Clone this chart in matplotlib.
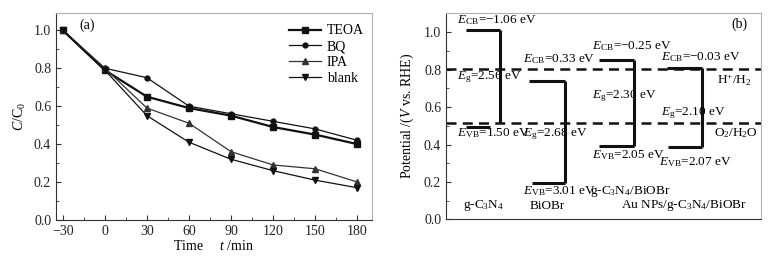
import numpy as np
import matplotlib.pyplot as plt

plt.rcParams['font.family'] = ['Liberation Serif', 'DejaVu Serif']
plt.rcParams['mathtext.fontset'] = 'custom'
plt.rcParams['mathtext.rm'] = 'Liberation Serif'
plt.rcParams['mathtext.it'] = 'Liberation Serif:italic'
plt.rcParams['font.size'] = 10

# panel (a) data
time = [-30, 0, 30, 60, 90, 120, 150, 180]
teoa = [1.0, 0.79, 0.65, 0.59, 0.55, 0.49, 0.45, 0.40]
bq = [1.0, 0.80, 0.75, 0.60, 0.56, 0.52, 0.48, 0.42]
ipa = [1.0, 0.80, 0.59, 0.51, 0.36, 0.29, 0.27, 0.20]
blank = [1.0, 0.79, 0.55, 0.41, 0.32, 0.26, 0.21, 0.17]

# panel (b) band positions (schematic axis units)
band_x0 = [6.4, 26.5, 48.7, 70.1]
band_x1 = [17.2, 37.8, 59.7, 81.4]
vb_x0 = [6.4, 27.2, 48.7, 70.5]
vb_x1 = [14.0, 37.8, 59.7, 81.4]
cb_level = [1.012, 0.741, 0.852, 0.811]
vb_level = [0.495, 0.196, 0.392, 0.388]
redox_level = [0.802, 0.513]
redox_names = [r'H$^{+}$/H$_{2}$', r'O$_{2}$/H$_{2}$O']
redox_y = [0.745, 0.463]

fig = plt.figure(figsize=(7.72, 2.58), dpi=100)
ax1 = fig.add_axes([56/772, 1-220/258, (372-56)/772, (220-13)/258])
ax2 = fig.add_axes([446/772, 1-219.3/258, (760.7-446)/772, (219.3-12.7)/258])

light = '#b0b0b0'
for ax in (ax1, ax2):
    ax.spines['top'].set_color(light)
    ax.spines['right'].set_color(light)
    ax.spines['left'].set_color('#333333')
    ax.spines['bottom'].set_color('#333333')
    ax.tick_params(which='both', direction='in', colors='#333333', labelcolor='#222222', labelsize=10)
    ax.tick_params(which='major', length=3.5)
    ax.tick_params(which='minor', length=2)

# ---- (a)
ax1.plot(time, teoa, '-s', color='#111111', lw=1.6, ms=4, label='TEOA')
ax1.plot(time, bq, '-o', color='#111111', lw=0.9, ms=3.5, label='BQ')
ax1.plot(time, ipa, '-^', color='#333333', lw=0.9, ms=4, label='IPA')
ax1.plot(time, blank, '-v', color='#111111', lw=0.9, ms=4, label='blank')
ax1.set_xlim(-34.8, 190.5)
ax1.set_ylim(0, 1.091)
ax1.set_xticks(time)
ax1.set_xticklabels(['\u221230', '0', '30', '60', '90', '120', '150', '180'])
ax1.set_xticks(np.arange(-15, 180, 30), minor=True)
ax1.set_yticks([0, 0.2, 0.4, 0.6, 0.8, 1.0])
ax1.set_yticks([0.1, 0.3, 0.5, 0.7, 0.9], minor=True)
ax1.yaxis.set_major_formatter(plt.FormatStrFormatter('%.1f'))
ax1.set_ylabel(r'$C$/C$_{0}$', labelpad=4)
ax1.set_xlabel(r'Time     $t$ /min', labelpad=1)
ax1.text(-12.5, 1.028, '(a)', ha='center', va='center')
ax1.legend(loc='upper right', frameon=False, handlelength=2.3, handletextpad=0.4,
           labelspacing=0.2, borderaxespad=0.2, fontsize=10, bbox_to_anchor=(1.0, 0.985))

# ---- (b)
ax2.set_xlim(0, 100)
ax2.set_ylim(0, 1.105)
ax2.set_xticks([])
ax2.set_yticks([0, 0.2, 0.4, 0.6, 0.8, 1.0])
ax2.set_yticks([0.1, 0.3, 0.5, 0.7, 0.9], minor=True)
ax2.yaxis.set_major_formatter(plt.FormatStrFormatter('%.1f'))
ax2.set_ylabel(r'Potential /($V$ vs. RHE)', labelpad=6)

for lv in redox_level:
    ax2.axhline(lv, color='#111111', lw=1.8, ls=(0, (4, 2.5)))

for i in range(len(cb_level)):
    ax2.plot([band_x0[i], band_x1[i]], [cb_level[i], cb_level[i]], color='#111111', lw=2.2, solid_capstyle='butt')
    ax2.plot([vb_x0[i], vb_x1[i]], [vb_level[i], vb_level[i]], color='#111111', lw=2.2, solid_capstyle='butt')
    lo = max(vb_level[i], redox_level[1]) if i == 0 else vb_level[i]
    ax2.plot([band_x1[i], band_x1[i]], [lo, cb_level[i]], color='#111111', lw=2.2, solid_capstyle='butt')

labels = [
    (3.4, 1.066, r'$E$$_{\rm CB}$=\u22121.06 eV'),
    (3.4, 0.761, r'$E$$_{\rm g}$=2.56 eV'),
    (3.4, 0.463, r'$E$$_{\rm VB}$=1.50 eV'),
    (24.4, 0.856, r'$E$$_{\rm CB}$=0.33 eV'),
    (24.6, 0.455, r'$E$$_{\rm g}$=2.68 eV'),
    (24.4, 0.153, r'$E$$_{\rm VB}$=3.01 eV'),
    (45.7, 0.148, r'g-C$_{3}$N$_{4}$/BiOBr'),
    (46.4, 0.928, r'$E$$_{\rm CB}$=\u22120.25 eV'),
    (46.4, 0.661, r'$E$$_{\rm g}$=2.30 eV'),
    (46.4, 0.344, r'$E$$_{\rm VB}$=2.05 eV'),
    (68.2, 0.866, r'$E$$_{\rm CB}$=\u22120.03 eV'),
    (68.2, 0.567, r'$E$$_{\rm g}$=2.10 eV'),
    (67.6, 0.305, r'$E$$_{\rm VB}$=2.07 eV'),
    (5.3, 0.072, r'g-C$_{3}$N$_{4}$'),
    (26.5, 0.072, 'BiOBr'),
    (55.5, 0.072, r'Au NPs/g-C$_{3}$N$_{4}$/BiOBr'),
]
for x, y, s in labels:
    ax2.text(x, y, s.replace('\\u2212', '\u2212'), ha='left', va='center', fontsize=9.5)
ax2.text(97.1, redox_y[0], redox_names[0], ha='right', va='center', fontsize=9.5)
ax2.text(99.2, redox_y[1], redox_names[1], ha='right', va='center', fontsize=9.5)
ax2.text(93.4, 1.044, '(b)', ha='center', va='center', fontsize=10)

fig.savefig('out.png', dpi=100)
